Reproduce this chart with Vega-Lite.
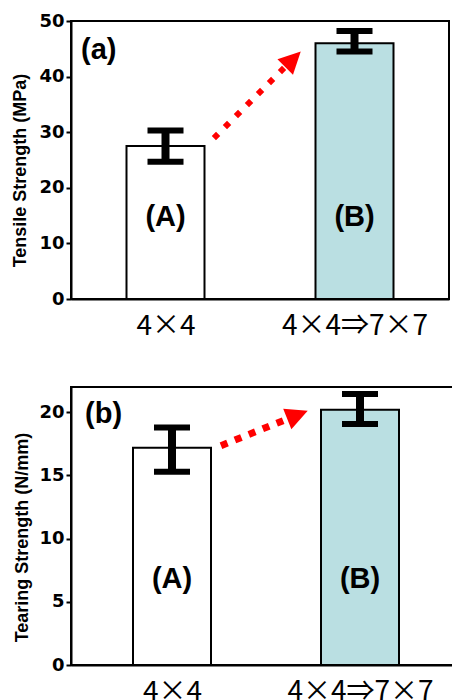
{
  "$schema": "https://vega.github.io/schema/vega-lite/v6.json",
  "padding": {"left": 10, "top": 11, "right": 0, "bottom": 0},
  "spacing": 45,
  "background": "white",
  "config": {
    "axis": {"domainColor": "black", "domainWidth": 2, "tickColor": "black", "tickWidth": 2, "labelColor": "black", "titleColor": "black", "grid": false}
  },
  "datasets": {
    "tensile": [
      {"sample": "A", "tag": "(A)", "cat": "4×4", "x": 1, "value": 27.5, "lo": 24.7, "hi": 30.3},
      {"sample": "B", "tag": "(B)", "cat": "4×4⇒7×7", "x": 3, "value": 46.0, "lo": 44.5, "hi": 48.2}
    ],
    "tearing": [
      {"sample": "A", "tag": "(A)", "cat": "4×4", "x": 1, "value": 17.2, "lo": 15.3, "hi": 18.8},
      {"sample": "B", "tag": "(B)", "cat": "4×4⇒7×7", "x": 3, "value": 20.2, "lo": 19.07, "hi": 21.44}
    ]
  },
  "vconcat": [
    {
      "width": 378,
      "height": 278,
      "view": {"stroke": "black", "strokeWidth": 2},
      "layer": [
        {
          "data": {"name": "tensile"},
          "mark": {"type": "bar", "width": 78, "stroke": "black", "strokeWidth": 2},
          "encoding": {
            "x": {"field": "x", "type": "quantitative", "scale": {"domain": [0, 4], "padding": 0, "nice": false, "zero": false},
              "axis": {"values": [1, 3], "labelExpr": "datum.value == 1 ? '4×4' : '4×4⇒7×7'", "title": null, "ticks": false, "labelFont": "Noto Sans CJK JP", "labelFontSize": 28, "labelPadding": 13, "labelFlush": false}},
            "y": {"field": "value", "type": "quantitative", "scale": {"domain": [0, 50], "padding": 0, "nice": false},
              "axis": {"values": [0, 10, 20, 30, 40, 50], "title": "Tensile Strength (MPa)", "titleFont": "Liberation Sans", "titleFontSize": 18, "titleFontWeight": "bold", "titlePadding": 9, "titleY": 149, "labelFont": "DejaVu Sans", "labelFontWeight": "bold", "labelFontSize": 18, "tickSize": 5, "labelPadding": 2, "labelFlush": false}},
            "fill": {"field": "sample", "type": "nominal", "scale": {"domain": ["A", "B"], "range": ["#ffffff", "#badfe2"]}, "legend": null}
          }
        },
        {
          "data": {"name": "tensile"},
          "mark": {"type": "rule", "color": "black", "strokeWidth": 8},
          "encoding": {"x": {"field": "x", "type": "quantitative"}, "y": {"field": "lo", "type": "quantitative"}, "y2": {"field": "hi"}}
        },
        {
          "data": {"name": "tensile"},
          "mark": {"type": "tick", "orient": "horizontal", "size": 36, "thickness": 6, "color": "black", "opacity": 1},
          "encoding": {"x": {"field": "x", "type": "quantitative"}, "y": {"field": "hi", "type": "quantitative"}}
        },
        {
          "data": {"name": "tensile"},
          "mark": {"type": "tick", "orient": "horizontal", "size": 36, "thickness": 6, "color": "black", "opacity": 1},
          "encoding": {"x": {"field": "x", "type": "quantitative"}, "y": {"field": "lo", "type": "quantitative"}}
        },
        {
          "data": {"name": "tensile"},
          "mark": {"type": "text", "font": "Liberation Sans", "fontWeight": "bold", "fontSize": 29, "color": "black", "baseline": "middle", "align": "center"},
          "encoding": {"x": {"field": "x", "type": "quantitative"}, "y": {"datum": 14.7, "type": "quantitative"}, "text": {"field": "tag"}}
        },
        {
          "data": {"values": [{"panel": "(a)"}]},
          "mark": {"type": "text", "font": "Liberation Sans", "fontWeight": "bold", "fontSize": 29, "color": "black", "baseline": "middle", "align": "left"},
          "encoding": {"x": {"datum": 0.106, "type": "quantitative"}, "y": {"datum": 44.8, "type": "quantitative"}, "text": {"field": "panel"}}
        },
        {
          "data": {"values": [{"arrow": "a"}]},
          "mark": {"type": "rule", "color": "#ff0000", "strokeWidth": 6, "strokeDash": [6, 9.56]},
          "encoding": {"x": {"datum": 1.512, "type": "quantitative"}, "y": {"datum": 28.94, "type": "quantitative"}, "x2": {"datum": 2.255}, "y2": {"datum": 41.56}}
        },
        {
          "data": {"values": [{"arrow": "a"}]},
          "mark": {"type": "point", "shape": "M-1,-1L1,0L-1,1Z", "size": 484, "angle": 315, "filled": true, "color": "#ff0000", "opacity": 1, "strokeWidth": 0},
          "encoding": {"x": {"datum": 2.349, "type": "quantitative"}, "y": {"datum": 43.12, "type": "quantitative"}}
        }
      ]
    },
    {
      "width": 383,
      "height": 278,
      "view": {"stroke": "black", "strokeWidth": 2},
      "layer": [
        {
          "data": {"name": "tearing"},
          "mark": {"type": "bar", "width": 78, "stroke": "black", "strokeWidth": 2},
          "encoding": {
            "x": {"field": "x", "type": "quantitative", "scale": {"domain": [-0.0745, 4.0], "padding": 0, "nice": false, "zero": false},
              "axis": {"values": [1, 3], "labelExpr": "datum.value == 1 ? '4×4' : '4×4⇒7×7'", "title": null, "ticks": false, "labelFont": "Noto Sans CJK JP", "labelFontSize": 28, "labelPadding": 13, "labelFlush": false}},
            "y": {"field": "value", "type": "quantitative", "scale": {"domain": [0, 22], "padding": 0, "nice": false},
              "axis": {"values": [0, 5, 10, 15, 20], "title": "Tearing Strength (N/mm)", "titleFont": "Liberation Sans", "titleFontSize": 18, "titleFontWeight": "bold", "titlePadding": 7, "titleY": 150, "labelFont": "DejaVu Sans", "labelFontWeight": "bold", "labelFontSize": 18, "tickSize": 5, "labelPadding": 2, "labelFlush": false}},
            "fill": {"field": "sample", "type": "nominal", "scale": {"domain": ["A", "B"], "range": ["#ffffff", "#badfe2"]}, "legend": null}
          }
        },
        {
          "data": {"name": "tearing"},
          "mark": {"type": "rule", "color": "black", "strokeWidth": 8},
          "encoding": {"x": {"field": "x", "type": "quantitative"}, "y": {"field": "lo", "type": "quantitative"}, "y2": {"field": "hi"}}
        },
        {
          "data": {"name": "tearing"},
          "mark": {"type": "tick", "orient": "horizontal", "size": 36, "thickness": 6, "color": "black", "opacity": 1},
          "encoding": {"x": {"field": "x", "type": "quantitative"}, "y": {"field": "hi", "type": "quantitative"}}
        },
        {
          "data": {"name": "tearing"},
          "mark": {"type": "tick", "orient": "horizontal", "size": 36, "thickness": 6, "color": "black", "opacity": 1},
          "encoding": {"x": {"field": "x", "type": "quantitative"}, "y": {"field": "lo", "type": "quantitative"}}
        },
        {
          "data": {"name": "tearing"},
          "mark": {"type": "text", "font": "Liberation Sans", "fontWeight": "bold", "fontSize": 29, "color": "black", "baseline": "middle", "align": "center"},
          "encoding": {"x": {"field": "x", "type": "quantitative"}, "y": {"datum": 6.8, "type": "quantitative"}, "text": {"field": "tag"}}
        },
        {
          "data": {"values": [{"panel": "(b)"}]},
          "mark": {"type": "text", "font": "Liberation Sans", "fontWeight": "bold", "fontSize": 29, "color": "black", "baseline": "middle", "align": "left"},
          "encoding": {"x": {"datum": 0.0745, "type": "quantitative"}, "y": {"datum": 19.86, "type": "quantitative"}, "text": {"field": "panel"}}
        },
        {
          "data": {"values": [{"arrow": "b"}]},
          "mark": {"type": "rule", "color": "#ff0000", "strokeWidth": 7, "strokeDash": [7, 8]},
          "encoding": {"x": {"datum": 1.521, "type": "quantitative"}, "y": {"datum": 17.36, "type": "quantitative"}, "x2": {"datum": 2.194}, "y2": {"datum": 19.37}}
        },
        {
          "data": {"values": [{"arrow": "b"}]},
          "mark": {"type": "point", "shape": "M-1,-1L1,0L-1,1Z", "size": 484, "angle": 338.2, "filled": true, "color": "#ff0000", "opacity": 1, "strokeWidth": 0},
          "encoding": {"x": {"datum": 2.335, "type": "quantitative"}, "y": {"datum": 19.79, "type": "quantitative"}}
        }
      ]
    }
  ]
}
